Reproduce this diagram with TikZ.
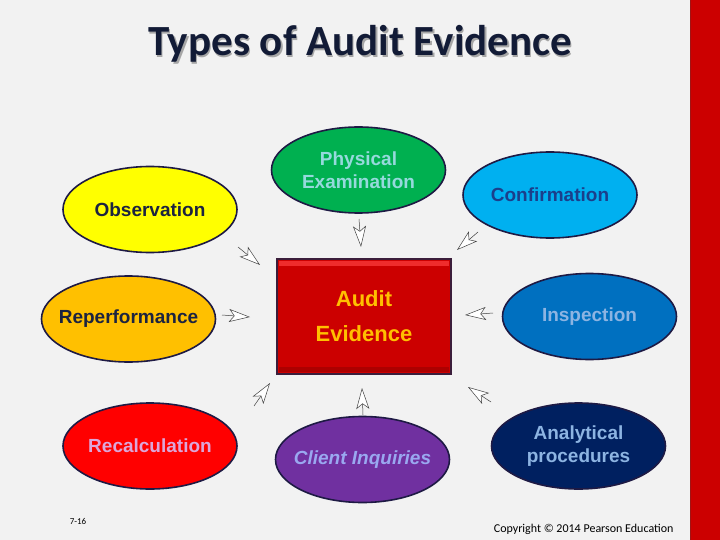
\documentclass[tikz,border=0pt]{standalone}
\usepackage{fontspec}
\setmainfont{Liberation Sans}
\newfontfamily\titlefont{Carlito}
\usetikzlibrary{arrows.meta,shapes.geometric}
\definecolor{bg}{HTML}{F2F2F2}
\definecolor{barred}{HTML}{CC0000}
\definecolor{baredge}{HTML}{A01515}
\definecolor{ovalline}{HTML}{1E1A44}
\definecolor{arrline}{HTML}{404040}
\definecolor{titlecol}{HTML}{121B36}
\definecolor{cYellow}{HTML}{FFFF00}
\definecolor{cOrange}{HTML}{FFC000}
\definecolor{cRed}{HTML}{FF0000}
\definecolor{cGreen}{HTML}{00B050}
\definecolor{cSky}{HTML}{00B0F0}
\definecolor{cBlue}{HTML}{0070C0}
\definecolor{cPurple}{HTML}{7030A0}
\definecolor{cNavy}{HTML}{002060}
\definecolor{tDark}{HTML}{1C2340}
\definecolor{tPink}{HTML}{DCA6DA}
\definecolor{tCyan}{HTML}{96D9DC}
\definecolor{tConf}{HTML}{1B3F8B}
\definecolor{tLight}{HTML}{8DB4E2}
\definecolor{tPeri}{HTML}{9AA8F0}
\definecolor{aeFill}{HTML}{CC0000}
\definecolor{aeLine}{HTML}{3B1E3B}
\definecolor{aeText}{HTML}{FFC000}
\begin{document}
\begin{tikzpicture}[x=1pt,y=-1pt,
  oval/.style={ellipse, draw=ovalline, line width=1.6pt, minimum width=174pt, minimum height=86pt, inner sep=0pt},
  otext/.style={font=\fontsize{19}{23}\selectfont\bfseries, align=center, inner sep=0pt},
  arr/.style={-{Stealth[length=21pt,width=13pt,inset=5pt,fill=white]}, draw=arrline, line width=0.5pt}]
% background and bar
\fill[bg] (0,0) rectangle (720,540);
\useasboundingbox (0,0) rectangle (720,540);
\fill[barred] (690,0) rectangle (720,540);
\draw[baredge, line width=1pt] (690.5,0) -- (690.5,540);
% title
\node[font=\titlefont\bfseries\fontsize{43}{50}\selectfont, text=black!35] at (361.5,45.5) {Types of Audit Evidence};
\node[font=\titlefont\bfseries\fontsize{43}{50}\selectfont, text=titlecol] (title) at (360,44) {Types of Audit Evidence};
% ovals
\node[oval, fill=cYellow] (obs) at (150,209.5) {};
\node[oval, fill=cOrange] (rep) at (128.5,319) {};
\node[oval, fill=cRed] (rec) at (150,446) {};
\node[oval, fill=cGreen] (phy) at (358.5,170) {};
\node[oval, fill=cSky] (con) at (550,195) {};
\node[oval, fill=cBlue] (ins) at (589.5,316.5) {};
\node[oval, fill=cPurple] (cli) at (362.5,459.5) {};
\node[oval, fill=cNavy] (ana) at (578.5,446) {};
% center box
\node[draw=aeLine, fill=aeFill, line width=1.6pt, minimum width=174pt, minimum height=115pt, inner sep=0pt] (ae) at (364,316.5) {};
\fill[red!75!white, opacity=0.7] (279,261) rectangle (449,266);
\fill[black, opacity=0.15] (279,367) rectangle (449,372);
\node[font=\fontsize{22}{35}\selectfont\bfseries, text=aeText, align=center] (aet) at (ae) {Audit\\Evidence};
% oval texts
\node[otext, text=tDark] (obst) at (obs) {Observation};
\node[otext, text=tDark] (rept) at (rep) {Reperformance};
\node[otext, text=tPink] (rect) at (rec) {Recalculation};
\node[otext, text=tCyan] (phyt) at (phy) {Physical\\Examination};
\node[otext, text=tConf] (cont) at (con) {Confirmation};
\node[otext, text=tLight] (inst) at (ins) {Inspection};
\node[otext, text=tPeri, font=\fontsize{19}{23}\selectfont\bfseries\itshape] (clit) at (cli) {Client Inquiries};
\node[otext, text=tLight] (anat) at (ana) {Analytical\\procedures};
% arrow coordinates
\coordinate (a1t) at (238,247); \coordinate (a1h) at (260,265);
\coordinate (a2t) at (359,219); \coordinate (a2h) at (361,247);
\coordinate (a3t) at (478,232); \coordinate (a3h) at (457,250);
\coordinate (a4t) at (222,315); \coordinate (a4h) at (250,317);
\coordinate (a5t) at (493,313); \coordinate (a5h) at (465,315);
\coordinate (a6t) at (254,406); \coordinate (a6h) at (270,383);
\coordinate (a7t) at (363,415); \coordinate (a7h) at (362,388);
\coordinate (a8t) at (491,402); \coordinate (a8h) at (468,387);
\draw[arr] (a1t) -- (a1h);
\draw[arr] (a2t) -- (a2h);
\draw[arr] (a3t) -- (a3h);
\draw[arr] (a4t) -- (a4h);
\draw[arr] (a5t) -- (a5h);
\draw[arr] (a6t) -- (a6h);
\draw[arr] (a7t) -- (a7h);
\draw[arr] (a8t) -- (a8h);
% footer
\node[font=\titlefont\fontsize{9}{10}\selectfont] (pg) at (78,521) {7-16};
\node[font=\titlefont\fontsize{12}{13}\selectfont, anchor=east] (copy) at (677,529) {Copyright © 2014 Pearson Education};
\end{tikzpicture}
\end{document}
